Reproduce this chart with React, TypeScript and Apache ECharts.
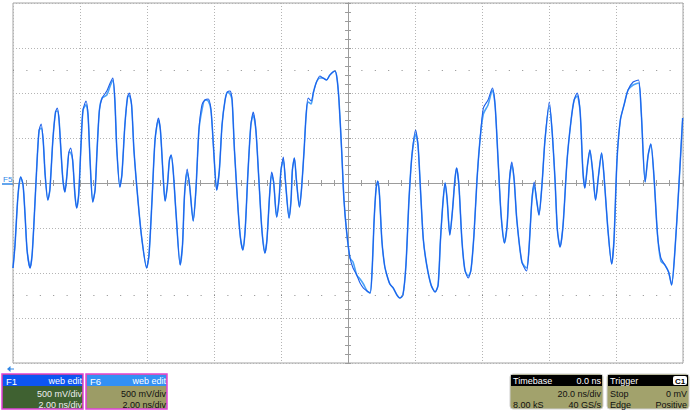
import React, { useEffect, useRef } from "react";
import * as echarts from "echarts";

// Time (ns) of each F1 sample, 2.00 ns/div, 10 divisions
const F1_T = [
  -10.0, -9.94, -9.85, -9.77, -9.7, -9.64, -9.58, -9.49, -9.43, -9.37,
  -9.28, -9.22, -9.16, -9.1, -9.04, -8.96, -8.9, -8.81, -8.73, -8.68,
  -8.63, -8.57, -8.51, -8.45, -8.39, -8.33, -8.28, -8.22, -8.15, -8.1,
  -8.04, -7.97, -7.91, -7.82, -7.76, -7.7, -7.62, -7.55, -7.49, -7.42,
  -7.34, -7.2, -7.1, -7.02, -6.96, -6.9, -6.81, -6.75, -6.66, -6.58,
  -6.53, -6.46, -6.39, -6.27, -6.15, -6.01, -5.94, -5.85, -5.76, -5.66,
  -5.6, -5.52, -5.46, -5.39, -5.33, -5.28, -5.22, -5.13, -5.01, -4.94,
  -4.88, -4.8, -4.73, -4.62, -4.54, -4.45, -4.36, -4.27, -4.17, -4.09,
  -4.01, -3.92, -3.84, -3.76, -3.67, -3.6, -3.52, -3.46, -3.39, -3.28,
  -3.21, -3.14, -3.07, -2.99, -2.9, -2.83, -2.75, -2.66, -2.57, -2.48,
  -2.42, -2.34, -2.28, -2.22, -2.13, -2.06, -2.0, -1.93, -1.87, -1.76,
  -1.7, -1.66, -1.6, -1.54, -1.45, -1.39, -1.31, -1.25, -1.19, -1.1,
  -1.03, -0.94, -0.84, -0.75, -0.64, -0.54, -0.39, -0.33, -0.27, -0.19,
  -0.12, -0.04, 0.06, 0.15, 0.26, 0.36, 0.46, 0.57, 0.66, 0.72,
  0.78, 0.84, 0.89, 0.94, 1.01, 1.09, 1.16, 1.25, 1.35, 1.46,
  1.55, 1.64, 1.73, 1.82, 1.91, 2.02, 2.09, 2.18, 2.25, 2.35,
  2.48, 2.6, 2.69, 2.76, 2.84, 2.9, 2.96, 3.04, 3.12, 3.19,
  3.24, 3.31, 3.4, 3.49, 3.59, 3.67, 3.76, 3.85, 3.94, 4.04,
  4.18, 4.31, 4.39, 4.48, 4.57, 4.67, 4.75, 4.82, 4.89, 4.96,
  5.04, 5.19, 5.33, 5.4, 5.49, 5.56, 5.63, 5.7, 5.79, 5.88,
  6.01, 6.09, 6.18, 6.25, 6.33, 6.42, 6.54, 6.66, 6.75, 6.84,
  6.93, 7.01, 7.07, 7.15, 7.22, 7.3, 7.39, 7.48, 7.57, 7.64,
  7.76, 7.87, 7.94, 8.03, 8.13, 8.24, 8.36, 8.51, 8.67, 8.75,
  8.87, 8.96, 9.04, 9.13, 9.24, 9.34, 9.46, 9.57, 9.66, 9.76,
  9.87, 9.99,
];

// F1 voltage (mV) at each sample, 500 mV/div
const F1_MV = [
  -944, -689, -133, 67, -22, -356, -744, -944, -800, -411,
  256, 589, 656, 478, 89, -189, -78, 478, 789, 833,
  722, 367, 33, -100, 89, 344, 389, 256, -133, -278,
  -133, 422, 811, 911, 756, 256, -211, -78, 367, 811,
  944, 1022, 1111, 1167, 922, 367, -44, 89, 644, 956,
  1000, 867, 367, -189, -633, -944, -800, -189, 478, 722,
  589, 89, -200, -22, 256, 311, 144, -356, -911, -689,
  -133, 156, -22, -422, -78, 589, 867, 922, 933, 811,
  367, -78, 144, 644, 922, 1011, 1022, 922, 367, -300,
  -611, -744, -522, 89, 644, 789, 589, 33, -522, -778,
  -633, -133, 122, 11, -378, -189, 144, 289, 33, -389,
  -189, 144, 278, 33, -267, -78, 367, 756, 944, 911,
  1011, 1122, 1189, 1167, 1144, 1200, 1244, 1167, 922, 367,
  -189, -544, -833, -944, -1022, -1111, -1167, -1200, -1222, -967,
  -411, -56, 22, -133, -633, -911, -1022, -1122, -1167, -1244,
  -1278, -1244, -911, -189, 311, 589, 422, -189, -633, -911,
  -1133, -1211, -1133, -633, -189, 0, -189, -578, -300, 33,
  167, -22, -633, -967, -1056, -967, -578, 33, 478, 833,
  922, 1056, 867, 256, -356, -667, -467, 33, 233, 33,
  -411, -878, -978, -744, -189, 11, -189, -356, -22, 478,
  900, 589, 33, -522, -711, -467, 256, 700, 922, 1000,
  789, 144, -56, 200, 367, 144, -189, 89, 333, 89,
  -522, -900, -633, 256, 700, 867, 1033, 1122, 1144, 811,
  11, 311, 433, 89, -578, -833, -911, -989, -1133, -744,
  -78, 722,
];

// F6 samples where it visibly departs from F1: [sample index, mV]
const F6_DIFFS: [number, number][] = [
  [12, 610], [19, 800], [26, 340], [33, 870], [41, 978], [42, 1078],
  [43, 1144], [50, 970], [59, 700], [71, 120], [76, 811], [78, 911],
  [86, 989], [95, 756], [102, 89], [107, 256], [118, 900], [119, 878],
  [122, 1167], [133, -878], [135, -1067], [136, -1122], [155, 544],
  [174, -1033], [179, 767], [180, 867], [181, 1033], [188, 200],
  [192, -944], [195, -22], [200, 856], [209, 967], [227, 1089],
  [228, 1111], [235, -867],
];

const F1_INFO = ["F1", "web edit", "500 mV/div", "2.00 ns/div"];
const F6_INFO = ["F6", "web edit", "500 mV/div", "2.00 ns/div"];
const TIMEBASE_INFO = ["Timebase", "0.0 ns", "20.0 ns/div", "8.00 kS", "40 GS/s"];
const TRIGGER_INFO = ["Trigger", "C1", "Stop", "0 mV", "Edge", "Positive"];
const DOT_ROWS_MV = [1250, -1250];

const FONT = "'Liberation Sans', Arial, sans-serif";

function txt(x: number, y: number, text: string, fill: string, align: string = "left", size = 9, weight = "normal") {
  return {
    type: "text",
    x,
    y,
    silent: true,
    style: { text, fill, fontSize: size, fontFamily: FONT, fontWeight: weight, align, verticalAlign: "middle" },
  };
}

function channelPanel(x: number, info: string[], headFill: string, bodyFill: string, bodyText: string) {
  return [
    { type: "rect", shape: { x, y: 374, width: 81, height: 35 }, style: { fill: bodyFill, stroke: "#e040d8", lineWidth: 1.5 } },
    { type: "rect", shape: { x: x + 1, y: 375, width: 79, height: 11 }, style: { fill: headFill } },
    txt(x + 4, 381, info[0], "#ffffff", "left", 9.5),
    txt(x + 80, 381, info[1], "#ffffff", "right"),
    txt(x + 80, 394, info[2], bodyText, "right"),
    txt(x + 80, 404.5, info[3], bodyText, "right"),
  ];
}

export default function App() {
  const ref = useRef<HTMLDivElement>(null);

  useEffect(() => {
    if (!ref.current) return;
    const chart = echarts.init(ref.current, undefined, { renderer: "svg" });

    const f1 = F1_T.map((t, i) => [t, F1_MV[i]]);
    const f6Vals = F1_MV.slice();
    F6_DIFFS.forEach(([i, v]) => { f6Vals[i] = v; });
    const f6 = F1_T.map((t, i) => [t, f6Vals[i]]);

    const axisGray = "#9c9c9c";
    const gridLine = { show: true, lineStyle: { color: "#b4b4b4", type: [1, 2] as any, width: 1 } };

    const xBase = {
      type: "value" as const,
      min: -10,
      max: 10,
      interval: 2,
      axisLabel: { show: false },
      axisLine: { show: true, onZero: true, lineStyle: { color: axisGray } },
      axisTick: { show: true, length: 3, inside: false, lineStyle: { color: axisGray } },
      minorTick: { show: true, splitNumber: 5, length: 3, lineStyle: { color: axisGray } },
    };
    const yBase = {
      type: "value" as const,
      min: -2000,
      max: 2000,
      interval: 500,
      axisLabel: { show: false },
      axisLine: { show: true, onZero: true, lineStyle: { color: axisGray } },
      axisTick: { show: true, length: 3, inside: false, lineStyle: { color: axisGray } },
      minorTick: { show: true, splitNumber: 5, length: 3, lineStyle: { color: axisGray } },
    };

    const graphics: any[] = [
      txt(3, 179, "F5", "#2f86e6", "left", 8),
      { type: "line", shape: { x1: 2, y1: 184, x2: 13, y2: 184 }, style: { stroke: "#2f86e6", lineWidth: 1.5 } },
      { type: "polygon", shape: { points: [[7, 369], [10.5, 366], [10.5, 372]] }, style: { fill: "#2f86e6" } },
      { type: "line", shape: { x1: 10, y1: 369, x2: 14, y2: 369 }, style: { stroke: "#2f86e6", lineWidth: 1 } },
      ...channelPanel(2, F1_INFO, "#0d55f2", "#3f6131", "#eeeeee"),
      ...channelPanel(86, F6_INFO, "#3390f5", "#9c9c66", "#111111"),
      // Timebase
      { type: "rect", shape: { x: 510, y: 374, width: 93, height: 35, r: 3 }, style: { fill: "#a2a26c", stroke: "#cfcfcf", lineWidth: 1 } },
      { type: "rect", shape: { x: 511, y: 375, width: 91, height: 11 }, style: { fill: "#000000" } },
      txt(513, 381, TIMEBASE_INFO[0], "#ffffff"),
      txt(601, 381, TIMEBASE_INFO[1], "#ffffff", "right"),
      txt(601, 394, TIMEBASE_INFO[2], "#111111", "right"),
      txt(513, 404.5, TIMEBASE_INFO[3], "#111111"),
      txt(601, 404.5, TIMEBASE_INFO[4], "#111111", "right"),
      // Trigger
      { type: "rect", shape: { x: 607, y: 374, width: 82, height: 35, r: 3 }, style: { fill: "#a2a26c", stroke: "#cfcfcf", lineWidth: 1 } },
      { type: "rect", shape: { x: 608, y: 375, width: 80, height: 11 }, style: { fill: "#000000" } },
      txt(610, 381, TRIGGER_INFO[0], "#ffffff"),
      { type: "rect", shape: { x: 673, y: 376, width: 14, height: 9, r: 2 }, style: { fill: "#ffffff" } },
      txt(680, 381, TRIGGER_INFO[1], "#000000", "center", 8, "bold"),
      txt(610, 394, TRIGGER_INFO[2], "#111111"),
      txt(687, 394, TRIGGER_INFO[3], "#111111", "right"),
      txt(610, 404.5, TRIGGER_INFO[4], "#111111"),
      txt(687, 404.5, TRIGGER_INFO[5], "#111111", "right"),
    ];

    chart.setOption({
      animation: false,
      backgroundColor: "#ffffff",
      grid: { left: 13, top: 3, width: 670, height: 360, show: true, borderColor: "#a4a4a4", borderWidth: 1, backgroundColor: "#ffffff" },
      xAxis: [
        { ...xBase, position: "bottom", splitLine: gridLine },
        { ...xBase, position: "top", splitLine: { show: false } },
      ],
      yAxis: [
        { ...yBase, position: "left", splitLine: gridLine },
        { ...yBase, position: "right", splitLine: { show: false } },
      ],
      series: [
        {
          name: "F6",
          type: "line",
          xAxisIndex: 0,
          yAxisIndex: 0,
          data: f6,
          showSymbol: false,
          symbol: "none",
          smooth: 0.25,
          lineStyle: { color: "#4aa3f7", width: 1.6 },
          silent: true,
          markLine: {
            silent: true,
            symbol: "none",
            label: { show: false },
            lineStyle: { color: "#8a8a8a", type: [1, 12.4] as any, width: 1 },
            data: DOT_ROWS_MV.map((v) => ({ yAxis: v })),
          },
        },
        {
          name: "F1",
          type: "line",
          xAxisIndex: 0,
          yAxisIndex: 0,
          data: f1,
          showSymbol: false,
          symbol: "none",
          smooth: 0.25,
          lineStyle: { color: "#1d5fea", width: 1.1 },
          silent: true,
        },
      ],
      graphic: graphics,
    });

    return () => chart.dispose();
  }, []);

  return <div ref={ref} style={{ position: "fixed", left: 0, top: 0, width: 690, height: 411 }} />;
}
